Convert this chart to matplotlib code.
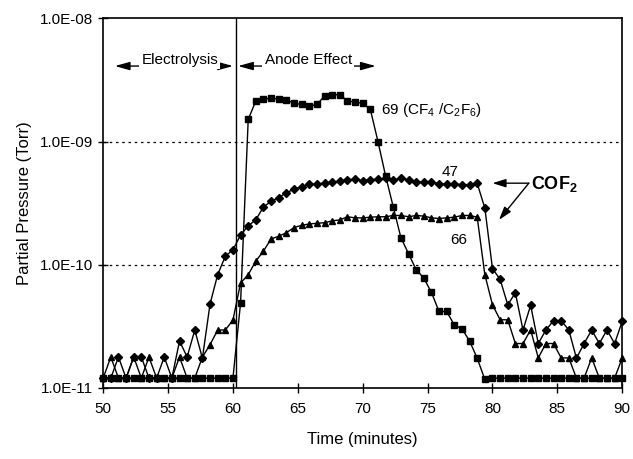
import numpy as np
from matplotlib import pyplot as plt
from matplotlib.ticker import FixedLocator, FuncFormatter, NullLocator

plt.rcParams['font.family'] = ['Liberation Sans', 'DejaVu Sans']
plt.rcParams['mathtext.fontset'] = 'custom'
plt.rcParams['mathtext.rm'] = 'Liberation Sans'
plt.rcParams['mathtext.it'] = 'Liberation Sans:italic'
plt.rcParams['mathtext.bf'] = 'Liberation Sans:bold'

# sampling times, one reading about every 35 s
minutes = np.linspace(50, 90, 69)

# mass 69 (CF4 / C2F6), Torr
p69 = [1.2e-11] * 18 + [
    4.9e-11, 1.51e-9, 2.14e-9, 2.21e-9, 2.24e-9, 2.21e-9, 2.19e-9, 2.04e-9,
    2.00e-9, 1.93e-9, 2.00e-9, 2.34e-9, 2.40e-9, 2.40e-9, 2.14e-9, 2.09e-9,
    2.04e-9, 1.82e-9, 1.00e-9, 5.25e-10, 2.95e-10, 1.66e-10, 1.23e-10, 9.1e-11,
    7.8e-11, 5.96e-11, 4.17e-11, 4.17e-11, 3.24e-11, 3.02e-11, 2.40e-11, 1.74e-11,
    1.17e-11] + [1.2e-11] * 18

# mass 47 (COF2), Torr
p47 = [
    1.2e-11, 1.2e-11, 1.78e-11, 1.2e-11, 1.78e-11, 1.78e-11, 1.2e-11, 1.2e-11,
    1.78e-11, 1.2e-11, 2.4e-11, 1.78e-11, 2.95e-11, 1.74e-11, 4.8e-11, 8.3e-11,
    1.17e-10, 1.32e-10, 1.74e-10, 2.07e-10, 2.31e-10, 2.95e-10, 3.27e-10, 3.51e-10,
    3.83e-10, 4.11e-10, 4.29e-10, 4.49e-10, 4.51e-10, 4.59e-10, 4.65e-10, 4.79e-10,
    4.90e-10, 4.94e-10, 4.82e-10, 4.90e-10, 4.94e-10, 5.01e-10, 4.90e-10, 5.01e-10,
    4.90e-10, 4.73e-10, 4.68e-10, 4.73e-10, 4.53e-10, 4.53e-10, 4.53e-10, 4.47e-10,
    4.47e-10, 4.57e-10, 2.88e-10, 9.3e-11, 7.6e-11, 4.73e-11, 5.9e-11, 2.95e-11,
    4.68e-11, 2.29e-11, 2.95e-11, 3.51e-11, 3.51e-11, 2.95e-11, 1.74e-11, 2.29e-11,
    2.95e-11, 2.29e-11, 2.95e-11, 2.29e-11, 3.47e-11]

# mass 66 (COF2), Torr
p66 = [
    1.2e-11, 1.78e-11, 1.2e-11, 1.2e-11, 1.78e-11, 1.2e-11, 1.78e-11, 1.2e-11,
    1.2e-11, 1.2e-11, 1.78e-11, 1.2e-11, 1.2e-11, 1.78e-11, 2.24e-11, 2.95e-11,
    2.95e-11, 3.55e-11, 7.1e-11, 8.3e-11, 1.07e-10, 1.29e-10, 1.62e-10, 1.70e-10,
    1.82e-10, 2.00e-10, 2.09e-10, 2.14e-10, 2.17e-10, 2.19e-10, 2.27e-10, 2.31e-10,
    2.45e-10, 2.40e-10, 2.40e-10, 2.43e-10, 2.45e-10, 2.45e-10, 2.51e-10, 2.51e-10,
    2.45e-10, 2.51e-10, 2.48e-10, 2.40e-10, 2.37e-10, 2.40e-10, 2.43e-10, 2.51e-10,
    2.51e-10, 2.43e-10, 8.3e-11, 4.73e-11, 3.57e-11, 3.57e-11, 2.29e-11, 2.29e-11,
    2.96e-11, 1.75e-11, 2.29e-11, 2.29e-11, 1.75e-11, 1.75e-11, 1.2e-11, 1.2e-11,
    1.75e-11, 1.2e-11, 1.2e-11, 1.2e-11, 1.75e-11]

x_ticks = [50, 55, 60, 65, 70, 75, 80, 85, 90]
y_ticks = [1e-11, 1e-10, 1e-9, 1e-8]
anode_start = 60.2

fig = plt.figure(figsize=(6.33, 4.59), dpi=100)
ax = fig.add_axes([0.163, 0.155, 0.820, 0.805])

line_kw = dict(color='black', lw=1.0, clip_on=False, zorder=3)
ax.plot(minutes, p69, marker='s', ms=4.3, **line_kw)
ax.plot(minutes, p47, marker='D', ms=3.8, **line_kw)
ax.plot(minutes, p66, marker='^', ms=4.8, **line_kw)

ax.set_yscale('log')
ax.set_xlim(50, 90)
ax.set_ylim(1e-11, 1e-8)

ax.xaxis.set_major_locator(FixedLocator(x_ticks))
ax.yaxis.set_major_locator(FixedLocator(y_ticks))
ax.yaxis.set_minor_locator(NullLocator())
ax.yaxis.set_major_formatter(FuncFormatter(lambda v, _: '%.1E' % v))
ax.tick_params(direction='inout', length=7, width=1, labelsize=11, colors='black')
ax.tick_params(axis='x', pad=7)

for level in [1e-10, 1e-9]:
    ax.axhline(level, color='black', lw=0.9, ls=(0, (2, 3)), zorder=1)

for side in ax.spines.values():
    side.set_linewidth(1.2)

ax.axvline(anode_start, color='black', lw=1.0, zorder=2)

head = dict(arrowstyle='<|-|>,head_length=0.9,head_width=0.25', color='black', lw=1.0,
            shrinkA=0, shrinkB=0)
ax.annotate('', xy=(50.9, 4.1e-9), xytext=(60.0, 4.1e-9), arrowprops=head)
ax.annotate('', xy=(60.4, 4.1e-9), xytext=(71.0, 4.1e-9), arrowprops=head)
box = dict(facecolor='white', edgecolor='none', pad=1.5)
ax.text(55.9, 4.6e-9, 'Electrolysis', ha='center', va='center', fontsize=11, bbox=box, zorder=4)
ax.text(65.8, 4.6e-9, 'Anode Effect', ha='center', va='center', fontsize=11, bbox=box, zorder=4)

ax.text(71.4, 1.8e-9, '69 (CF$_4$ /C$_2$F$_6$)', ha='left', va='center', fontsize=11)
ax.text(76.7, 5.7e-10, '47', ha='center', va='center', fontsize=11)
ax.text(77.4, 1.58e-10, '66', ha='center', va='center', fontsize=11)

ax.text(83.0, 4.55e-10, r'COF$_\mathbf{2}$', ha='left', va='center', fontsize=13,
        fontweight='bold')
cof_arrow = dict(arrowstyle='-|>,head_length=0.8,head_width=0.25', color='black', lw=1.0,
                 shrinkA=0, shrinkB=0)
ax.annotate('', xy=(80.0, 4.59e-10), xytext=(82.8, 4.59e-10), arrowprops=cof_arrow)
ax.annotate('', xy=(80.5, 2.31e-10), xytext=(82.8, 4.59e-10), arrowprops=cof_arrow)

ax.set_xlabel('Time (minutes)', fontsize=12, labelpad=11)
ax.set_ylabel('Partial Pressure (Torr)', fontsize=12, labelpad=6)

fig.savefig('out.png', dpi=100)
